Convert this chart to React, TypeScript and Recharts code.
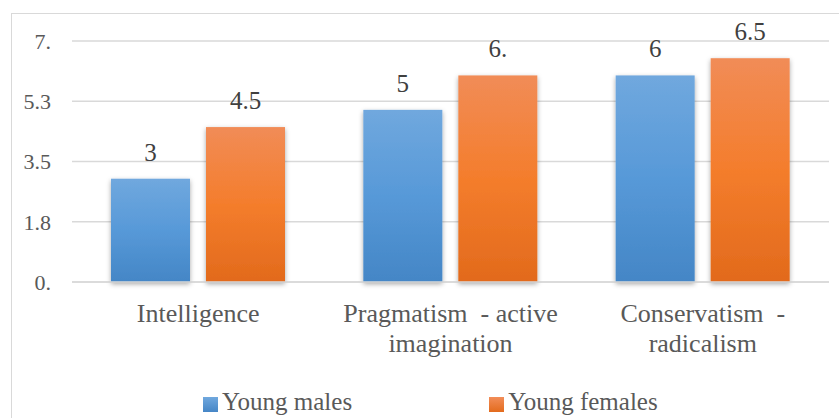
import React from "react";
import { BarChart, Bar, XAxis, YAxis, CartesianGrid, Legend, LabelList } from "recharts";

const categories = ["Intelligence", "Pragmatism  - active\nimagination", "Conservatism  -\nradicalism"];
const youngMales = [3, 5, 6];
const youngFemales = [4.5, 6, 6.5];
const maleLabels = ["3", "5", "6"];
const femaleLabels = ["4.5", "6.", "6.5"];
const yTicks = [0, 1.75, 3.5, 5.25, 7];
const yTickLabels = ["0.", "1.8", "3.5", "5.3", "7."];
const seriesNames = ["Young males", "Young females"];

const data = categories.map((name, i) => ({
  name,
  males: youngMales[i],
  females: youngFemales[i],
  maleLabel: maleLabels[i],
  femaleLabel: femaleLabels[i],
}));

const FONT = "Liberation Serif";

const CategoryTick = (props: any) => {
  const { x, y, payload } = props;
  const lines = String(payload.value).split("\n");
  return (
    <text x={x} y={y} textAnchor="middle" fill="#595959" fontSize={26} style={{ whiteSpace: "pre", fontFamily: FONT }}>
      {lines.map((l, i) => (
        <tspan key={i} x={x} dy={i === 0 ? 24 : 30}>
          {l}
        </tspan>
      ))}
    </text>
  );
};

const makeShape = (fillId: string) => (p: any) => (
  <rect x={p.x} y={p.y} width={p.width} height={p.height} fill={`url(#${fillId})`} filter="url(#barShadow)" />
);

const LegendContent = () => (
  <div style={{ display: "flex", paddingLeft: 203, fontFamily: FONT, fontSize: 25, lineHeight: "25px", color: "#595959" }}>
    {seriesNames.map((n, i) => (
      <div key={n} style={{ display: "flex", alignItems: "center", marginRight: i === 0 ? 137 : 0 }}>
        <div
          style={{
            width: 15,
            height: 15,
            marginRight: 4,
            marginTop: 6,
            background: i === 0 ? "linear-gradient(#70a8de, #4686c6)" : "linear-gradient(#f28d58, #e36b1d)",
          }}
        />
        <span style={{ whiteSpace: "nowrap", fontFamily: FONT }}>{n}</span>
      </div>
    ))}
  </div>
);

export default function App() {
  return (
    <div style={{ position: "absolute", left: 0, top: 0, width: 839, height: 418, overflow: "hidden", background: "#fff", fontFamily: FONT }}>
      <div
        style={{
          position: "absolute",
          left: 11,
          top: 13,
          width: 860,
          height: 440,
          border: "1.5px solid #d9d9d9",
          boxSizing: "border-box",
        }}
      />
      <div style={{ position: "absolute", left: 0, top: 0 }}>
        <BarChart
          width={839}
          height={418}
          data={data}
          margin={{ top: 41, right: 10, left: 0, bottom: 36 }}
          barSize={79}
          barGap={16}
          style={{ fontFamily: FONT }}
        >
          <defs>
            <linearGradient id="gradBlue" x1="0" y1="0" x2="0" y2="1">
              <stop offset="0%" stopColor="#70a8de" />
              <stop offset="50%" stopColor="#5799d8" />
              <stop offset="100%" stopColor="#4486c6" />
            </linearGradient>
            <linearGradient id="gradOrange" x1="0" y1="0" x2="0" y2="1">
              <stop offset="0%" stopColor="#f18c57" />
              <stop offset="50%" stopColor="#f47d2c" />
              <stop offset="100%" stopColor="#e26a1c" />
            </linearGradient>
            <filter id="barShadow" x="-20%" y="-20%" width="140%" height="140%">
              <feDropShadow dx="0" dy="2" stdDeviation="2.5" floodColor="#000" floodOpacity="0.35" />
            </filter>
          </defs>
          <CartesianGrid vertical={false} stroke="#d9d9d9" strokeWidth={1.5} />
          <XAxis
            dataKey="name"
            interval={0}
            height={100}
            tickLine={false}
            tickMargin={10}
            axisLine={{ stroke: "#d9d9d9", strokeWidth: 1.5 }}
            tick={<CategoryTick />}
          />
          <YAxis
            width={72}
            domain={[0, 7]}
            ticks={yTicks}
            tickFormatter={(v: number) => yTickLabels[yTicks.indexOf(v)]}
            axisLine={false}
            tickLine={false}
            tickMargin={15}
            tick={{ fill: "#595959", fontSize: 22, fontFamily: FONT, style: { fontFamily: FONT } }}
          />
          <Legend
            verticalAlign="middle"
            align="center"
            layout="horizontal"
            content={<LegendContent />}
            wrapperStyle={{ top: 389, left: 0, width: 839 }}
          />
          <Bar dataKey="males" name={seriesNames[0]} fill="#5b9bd5" isAnimationActive={false} shape={makeShape("gradBlue")}>
            <LabelList dataKey="maleLabel" position="top" offset={18} fill="#404040" fontSize={25} fontFamily={FONT} style={{ fontFamily: FONT }} />
          </Bar>
          <Bar dataKey="females" name={seriesNames[1]} fill="#ed7d31" isAnimationActive={false} shape={makeShape("gradOrange")}>
            <LabelList dataKey="femaleLabel" position="top" offset={18} fill="#404040" fontSize={25} fontFamily={FONT} style={{ fontFamily: FONT }} />
          </Bar>
        </BarChart>
      </div>
    </div>
  );
}
